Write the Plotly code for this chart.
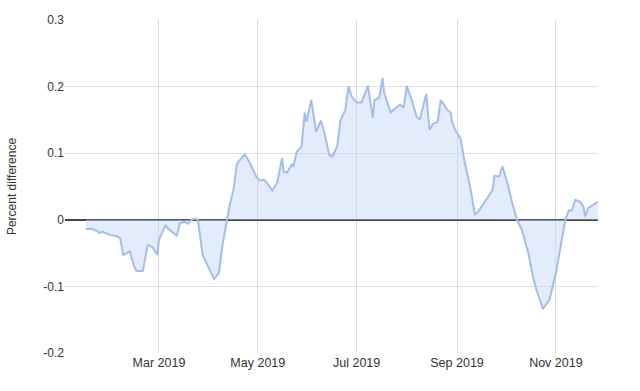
import plotly.graph_objects as go

dates = [
    "2019-01-15", "2019-01-19", "2019-01-22", "2019-01-23", "2019-01-25", "2019-01-30",
    "2019-02-02", "2019-02-05", "2019-02-07", "2019-02-11", "2019-02-14", "2019-02-15",
    "2019-02-19", "2019-02-22", "2019-02-25", "2019-02-28", "2019-03-01", "2019-03-05",
    "2019-03-06", "2019-03-09", "2019-03-12", "2019-03-14", "2019-03-17", "2019-03-19",
    "2019-03-21", "2019-03-23", "2019-03-25", "2019-03-28", "2019-04-01", "2019-04-04",
    "2019-04-07", "2019-04-09", "2019-04-12", "2019-04-14", "2019-04-16", "2019-04-18",
    "2019-04-20", "2019-04-23", "2019-04-26", "2019-04-29", "2019-04-30", "2019-05-02",
    "2019-05-05", "2019-05-08", "2019-05-10", "2019-05-13", "2019-05-16", "2019-05-17",
    "2019-05-19", "2019-05-22", "2019-05-23", "2019-05-25", "2019-05-28", "2019-05-30",
    "2019-05-31", "2019-06-03", "2019-06-06", "2019-06-09", "2019-06-11", "2019-06-14",
    "2019-06-16", "2019-06-19", "2019-06-21", "2019-06-24", "2019-06-26", "2019-06-28",
    "2019-07-01", "2019-07-04", "2019-07-08", "2019-07-11", "2019-07-12", "2019-07-15",
    "2019-07-17", "2019-07-18", "2019-07-22", "2019-07-25", "2019-07-28", "2019-07-30",
    "2019-08-01", "2019-08-04", "2019-08-07", "2019-08-09", "2019-08-13", "2019-08-15",
    "2019-08-17", "2019-08-20", "2019-08-22", "2019-08-26", "2019-08-28", "2019-08-29",
    "2019-08-31", "2019-09-03", "2019-09-06", "2019-09-09", "2019-09-12", "2019-09-14",
    "2019-09-18", "2019-09-23", "2019-09-24", "2019-09-27", "2019-09-29", "2019-10-02",
    "2019-10-05", "2019-10-08", "2019-10-11", "2019-10-15", "2019-10-18", "2019-10-20",
    "2019-10-24", "2019-10-28", "2019-11-01", "2019-11-04", "2019-11-07", "2019-11-09",
    "2019-11-11", "2019-11-13", "2019-11-16", "2019-11-18", "2019-11-19", "2019-11-21",
    "2019-11-27",
]

values = [
    -0.014, -0.014, -0.017, -0.020, -0.018, -0.023,
    -0.024, -0.027, -0.053, -0.047, -0.072, -0.077,
    -0.077, -0.038, -0.041, -0.053, -0.030, -0.008,
    -0.012, -0.018, -0.024, -0.005, -0.003, -0.006,
    0.000, 0.002, 0.000, -0.053, -0.075, -0.089,
    -0.080, -0.041, 0.000, 0.026, 0.045, 0.083,
    0.090, 0.098, 0.086, 0.071, 0.065, 0.059,
    0.060, 0.051, 0.044, 0.056, 0.093, 0.072,
    0.071, 0.083, 0.080, 0.102, 0.110, 0.161,
    0.147, 0.180, 0.132, 0.149, 0.132, 0.098,
    0.095, 0.110, 0.149, 0.165, 0.200, 0.185,
    0.176, 0.176, 0.201, 0.153, 0.180, 0.183,
    0.213, 0.191, 0.161, 0.168, 0.173, 0.168,
    0.201, 0.180, 0.155, 0.150, 0.189, 0.135,
    0.144, 0.147, 0.180, 0.165, 0.161, 0.147,
    0.134, 0.123, 0.083, 0.050, 0.008, 0.012,
    0.027, 0.045, 0.066, 0.065, 0.080, 0.056,
    0.026, 0.000, -0.015, -0.050, -0.087, -0.105,
    -0.134, -0.120, -0.080, -0.041, 0.002, 0.014,
    0.014, 0.030, 0.027, 0.020, 0.005, 0.018,
    0.027,
]

x_tick_vals = ["2019-03-01", "2019-05-01", "2019-07-01", "2019-09-01", "2019-11-01"]
x_tick_text = ["Mar 2019", "May 2019", "Jul 2019", "Sep 2019", "Nov 2019"]
y_tick_vals = [-0.2, -0.1, 0, 0.1, 0.2, 0.3]
y_tick_text = ["-0.2", "-0.1", "0", "0.1", "0.2", "0.3"]

fig = go.Figure()
fig.add_trace(go.Scatter(
    x=dates, y=values, mode="lines", fill="tozeroy",
    line=dict(color="#a4bde9", width=2),
    fillcolor="rgba(200,218,248,0.5)",
    hoverinfo="x+y",
))

fig.update_layout(
    width=640, height=391,
    margin=dict(l=65, r=42, t=20, b=38),
    paper_bgcolor="white", plot_bgcolor="white",
    font=dict(family="Liberation Sans, Arial, sans-serif", size=12, color="#333"),
    showlegend=False,
    xaxis=dict(
        range=["2019-01-02", "2019-11-27"],
        tickvals=x_tick_vals, ticktext=x_tick_text,
        showgrid=True, gridcolor="#d9d9d9", gridwidth=1,
        zeroline=False, showline=False, ticks="",
        tickfont=dict(size=12.5, color="#333"),
    ),
    yaxis=dict(
        range=[-0.2, 0.3],
        tickvals=y_tick_vals, ticktext=y_tick_text,
        showgrid=True, gridcolor="#e0e0e0", gridwidth=1,
        zeroline=True, zerolinecolor="#444", zerolinewidth=1.5,
        showline=False, ticks="",
        tickfont=dict(size=12, color="#333"),
        title=dict(text="Percent difference", font=dict(size=12, color="#333"), standoff=24),
    ),
)

fig.write_html("out.html")
